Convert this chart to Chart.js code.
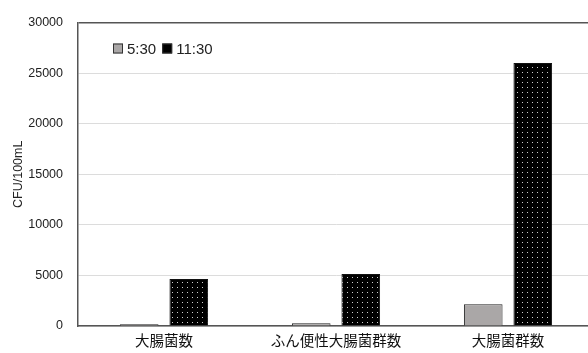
<!DOCTYPE html>
<html>
<head>
<meta charset="utf-8">
<script src="https://cdn.jsdelivr.net/npm/chart.js@4/dist/chart.umd.min.js"></script>
<style>
  html, body { margin: 0; padding: 0; background: #fff; overflow: hidden; }
  #wrap { width: 600px; height: 353px; position: relative; }
</style>
</head>
<body>
<div id="wrap"><canvas id="chart"></canvas></div>
<script>
// chart data
const categories = ['大腸菌数', 'ふん便性大腸菌群数', '大腸菌群数'];
const seriesNames = ['5:30', '11:30'];
const morningValues = [170, 260, 2150];
const noonValues = [4650, 5150, 26000];
const yTicks = [0, 5000, 10000, 15000, 20000, 25000, 30000];

// black fill with small light dots
const makeDots = () => {
    const c = document.createElement('canvas');
    c.width = 5;
    c.height = 5;
    const g = c.getContext('2d');
    g.fillStyle = '#000';
    g.fillRect(0, 0, 5, 5);
    g.fillStyle = '#cfcfcf';
    g.fillRect(2, 2, 1, 1);
    return g.createPattern(c, 'repeat');
};
const dotPattern = makeDots();

// legend drawn inside the plot, top left
const innerLegend = {
    id: 'innerLegend',
    afterDraw(chart) {
        const ctx = chart.ctx;
        let x = chart.chartArea.left + 35;
        const y = chart.chartArea.top + 26;
        ctx.save();
        ctx.font = '15px "Liberation Sans", Arial, sans-serif';
        ctx.textBaseline = 'middle';
        chart.data.datasets.forEach((ds, i) => {
            ctx.fillStyle = i === 0 ? '#aaa7a7' : '#000';
            ctx.fillRect(x, y - 5, 10, 10);
            ctx.strokeStyle = '#333';
            ctx.lineWidth = 1;
            ctx.strokeRect(x + 0.5, y - 4.5, 9, 9);
            ctx.fillStyle = '#222';
            ctx.fillText(ds.label, x + 14, y + 1);
            x += 14 + ctx.measureText(ds.label).width + 6;
        });
        ctx.restore();
    }
};

const ctx = document.getElementById('chart').getContext('2d');
new Chart(ctx, {
    type: 'bar',
    data: {
        labels: categories,
        datasets: [
            {
                label: seriesNames[0],
                data: morningValues,
                backgroundColor: '#aaa7a7',
                borderColor: '#222',
                borderWidth: 1
            },
            {
                label: seriesNames[1],
                data: noonValues,
                backgroundColor: dotPattern,
                borderColor: '#111',
                borderWidth: 1
            }
        ]
    },
    options: {
        responsive: true,
        maintainAspectRatio: false,
        animation: false,
        layout: { padding: { top: 19, right: 6, left: 0, bottom: 0 } },
        datasets: {
            bar: { categoryPercentage: 0.576, barPercentage: 0.78 }
        },
        scales: {
            x: {
                grid: { display: false, drawTicks: false },
                border: { color: '#555', width: 1.5 },
                ticks: {
                    color: '#111',
                    padding: 6,
                    font: { family: '"Noto Sans CJK JP", sans-serif', size: 14.5 }
                },
                afterFit(scale) { scale.height = 27; }
            },
            y: {
                min: 0,
                max: 30000,
                afterBuildTicks(scale) {
                    scale.ticks = yTicks.map(v => ({ value: v }));
                },
                grid: {
                    drawTicks: false,
                    color: c => c.tick && c.tick.value === 30000 ? '#555' : '#dcdcdc',
                    lineWidth: c => c.tick && c.tick.value === 30000 ? 1.5 : 1
                },
                border: { color: '#555', width: 1.5 },
                ticks: {
                    color: '#222',
                    padding: 15,
                    callback: v => String(v),
                    font: { family: '"Liberation Sans", Arial, sans-serif', size: 12.5 }
                },
                title: {
                    display: true,
                    text: 'CFU/100mL',
                    color: '#222',
                    padding: { top: 11, bottom: 0 },
                    font: { family: '"Liberation Sans", Arial, sans-serif', size: 12.5 }
                },
                afterFit(scale) { scale.width = 78; }
            }
        },
        plugins: {
            legend: { display: false },
            tooltip: { enabled: false }
        }
    },
    plugins: [innerLegend]
});
</script>
</body>
</html>
